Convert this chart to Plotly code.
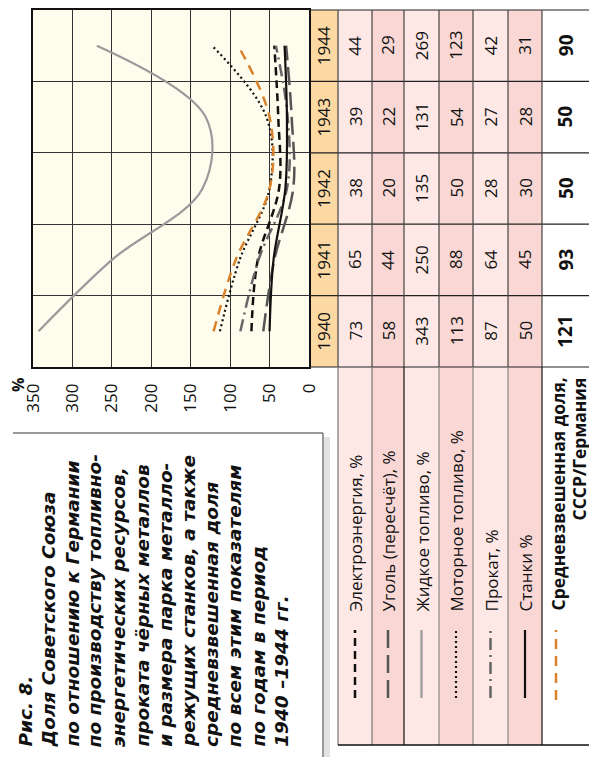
import plotly.graph_objects as go

# ---------------- data ----------------
years = [1940, 1941, 1942, 1943, 1944]
series_names = ["Электроэнергия, %", "Уголь (пересчёт), %", "Жидкое топливо, %",
                "Моторное топливо, %", "Прокат, %", "Станки %"]
electro = [73, 65, 38, 39, 44]
coal = [58, 44, 20, 22, 29]
liquid_fuel = [343, 250, 135, 131, 269]
motor_fuel = [113, 88, 50, 54, 123]
rolled = [87, 64, 28, 27, 42]
machines = [50, 45, 30, 28, 31]
weighted = [121, 93, 50, 50, 90]
weighted_name = ["Средневзвешенная доля,", "СССР/Германия"]
value_ticks = [0, 50, 100, 150, 200, 250, 300, 350]
caption_lines = ["Рис. 8.", "Доля Советского Союза", "по отношению к Германии",
                 "по производству топливно-", "энергетических ресурсов,",
                 "проката чёрных металлов", "и размера парка металло-",
                 "режущих станков, а также", "средневзвешенная доля",
                 "по всем этим показателям", "по годам в период", "1940 –1944 гг."]

all_series = [electro, coal, liquid_fuel, motor_fuel, rolled, machines]

# ---------------- styles ----------------
styles = [
    dict(color="#111111", width=2.5, dash="8px,5px"),
    dict(color="#555555", width=2.5, dash="18px,7px"),
    dict(color="#9a9a9a", width=2.2, dash="solid"),
    dict(color="#111111", width=2.2, dash="2px,3px"),
    dict(color="#666666", width=2.5, dash="12px,5px,2px,5px"),
    dict(color="#111111", width=2.2, dash="solid"),
]
w_style = dict(color="#d9822b", width=2.5, dash="10px,7px")

W, H = 589, 757
def px(x):
    return x / W
def py(y):
    return 1 - y / H

PL, PR, PT, PB = 33, 309, 10, 367
rh = (PB - PT) / 5.0
def row_center(i):
    return PB - (i + 0.5) * rh
def row_edge(i):
    return PB - i * rh

FONT = "Open Sans, DejaVu Sans, sans-serif"
ORANGE_BG = "#fcd9a2"
LIGHT = "#fde8e6"
DARK = "#f9d7d4"

fig = go.Figure()
for name, vals, st in zip(series_names, all_series, styles):
    fig.add_trace(go.Scatter(x=vals, y=years, mode="lines", name=name,
                             line=dict(shape="spline", smoothing=1.0, **st)))
fig.add_trace(go.Scatter(x=weighted, y=years, mode="lines", name=weighted_name[0],
                         line=dict(shape="spline", smoothing=1.0, **w_style)))

shapes = []
annotations = []

def label(x, y, text, size, xanchor="center", yanchor="middle", **fontkw):
    annotations.append(dict(xref="paper", yref="paper", x=px(x), y=py(y), text=text,
                            showarrow=False, textangle=-90, xanchor=xanchor, yanchor=yanchor,
                            font=dict(size=size, color="#111", **fontkw)))

# ---------------- table ----------------
col_edges = [309, 338, 372, 404, 439, 473, 508, 542, 589]
col_fill = [ORANGE_BG, LIGHT, DARK, LIGHT, DARK, LIGHT, DARK, "#ffffff"]
for c in range(8):
    shapes.append(dict(type="rect", xref="paper", yref="paper",
                       x0=px(col_edges[c]), x1=px(col_edges[c + 1]),
                       y0=py(PB), y1=py(PT), fillcolor=col_fill[c],
                       line=dict(width=0), layer="below"))
for c in range(1, 7):
    shapes.append(dict(type="rect", xref="paper", yref="paper",
                       x0=px(col_edges[c]), x1=px(col_edges[c + 1]),
                       y0=py(745), y1=py(PB), fillcolor=col_fill[c],
                       line=dict(width=0), layer="below"))
for i in range(6):
    yv = row_edge(i)
    shapes.append(dict(type="line", xref="paper", yref="paper",
                       x0=px(PR), x1=1, y0=py(yv), y1=py(yv),
                       line=dict(color="#222222", width=1.2)))
for c in range(1, 8):
    shapes.append(dict(type="line", xref="paper", yref="paper",
                       x0=px(col_edges[c]), x1=px(col_edges[c]),
                       y0=py(PB), y1=py(PT),
                       line=dict(color="#444444", width=1.2)))
vcols = {1: "#777777", 2: "#777777", 3: "#111111", 4: "#888888", 5: "#888888", 6: "#888888", 7: "#111111"}
for c in range(1, 8):
    shapes.append(dict(type="line", xref="paper", yref="paper",
                       x0=px(col_edges[c]), x1=px(col_edges[c]),
                       y0=py(745), y1=py(PB),
                       line=dict(color=vcols[c], width=1.2)))
shapes.append(dict(type="line", xref="paper", yref="paper",
                   x0=px(338), x1=1, y0=py(745), y1=py(745),
                   line=dict(color="#111111", width=1.5)))

for i, yr in enumerate(years):
    yc = row_center(i)
    label((col_edges[0] + col_edges[1]) / 2, yc, str(yr), 17, family=FONT)
    for c, vals in enumerate(all_series):
        label((col_edges[c + 1] + col_edges[c + 2]) / 2, yc, str(vals[i]), 17, family=FONT)
    label((col_edges[7] + col_edges[8]) / 2, yc, "<b>%d</b>" % weighted[i], 19, family=FONT)

for c, (name, st) in enumerate(zip(series_names, styles)):
    xc = (col_edges[c + 1] + col_edges[c + 2]) / 2
    shapes.append(dict(type="line", xref="paper", yref="paper", x0=px(xc), x1=px(xc),
                       y0=py(698), y1=py(630),
                       line=dict(color=st["color"], width=st["width"], dash=st["dash"])))
    label(xc, 614, name, 17, yanchor="bottom", family=FONT)
shapes.append(dict(type="line", xref="paper", yref="paper", x0=px(556), x1=px(556),
                   y0=py(700), y1=py(630),
                   line=dict(color=w_style["color"], width=w_style["width"], dash=w_style["dash"])))
label(557, 376, "<b>%s</b>" % weighted_name[0], 17.5, yanchor="top", family=FONT)
label(578, 376, "<b>%s</b>" % weighted_name[1], 17.5, yanchor="top", family=FONT)

# caption box
shapes.append(dict(type="rect", xref="paper", yref="paper", x0=px(324), x1=px(330),
                   y0=0, y1=py(437), fillcolor="#e2e2e2", line=dict(width=0)))
shapes.append(dict(type="line", xref="paper", yref="paper", x0=px(13), x1=px(323),
                   y0=py(433), y1=py(433), line=dict(color="#777777", width=1.5)))
shapes.append(dict(type="line", xref="paper", yref="paper", x0=px(323), x1=px(323),
                   y0=0, y1=py(433), line=dict(color="#777777", width=1.5)))
for k, line in enumerate(caption_lines):
    label(25 + k * 23.3, 749, line, 18.5, yanchor="bottom",
          family="DejaVu Sans", weight="bold", style="italic")

label(18, 376, "<b>%</b>", 16, yanchor="top", family=FONT)

fig.update_layout(
    width=W, height=H, margin=dict(l=0, r=0, t=0, b=0, autoexpand=False),
    paper_bgcolor="white", plot_bgcolor="#fefcec",
    showlegend=False, shapes=shapes, annotations=annotations,
    xaxis=dict(domain=[px(PL), px(PR)], range=[350, 0], tickvals=value_ticks,
               ticktext=[str(v) for v in value_ticks], tickangle=-90,
               showgrid=True, gridcolor="#333333", gridwidth=1, zeroline=False,
               showline=True, linecolor="#111111", linewidth=1.5, mirror=True,
               ticks="", ticklabelstandoff=8, automargin=False,
               tickfont=dict(family=FONT, size=17, color="#111")),
    yaxis=dict(domain=[py(PB), py(PT)], range=[1939.5, 1944.5],
               tickvals=[1940.5, 1941.5, 1942.5, 1943.5], showticklabels=False,
               showgrid=True, gridcolor="#333333", gridwidth=1, zeroline=False,
               showline=True, linecolor="#111111", linewidth=1.5, mirror=True, ticks="",
               automargin=False),
)

fig.write_html("out.html", config={"displayModeBar": False},
               post_script="document.body.style.margin='0px';document.body.style.padding='0px';")
